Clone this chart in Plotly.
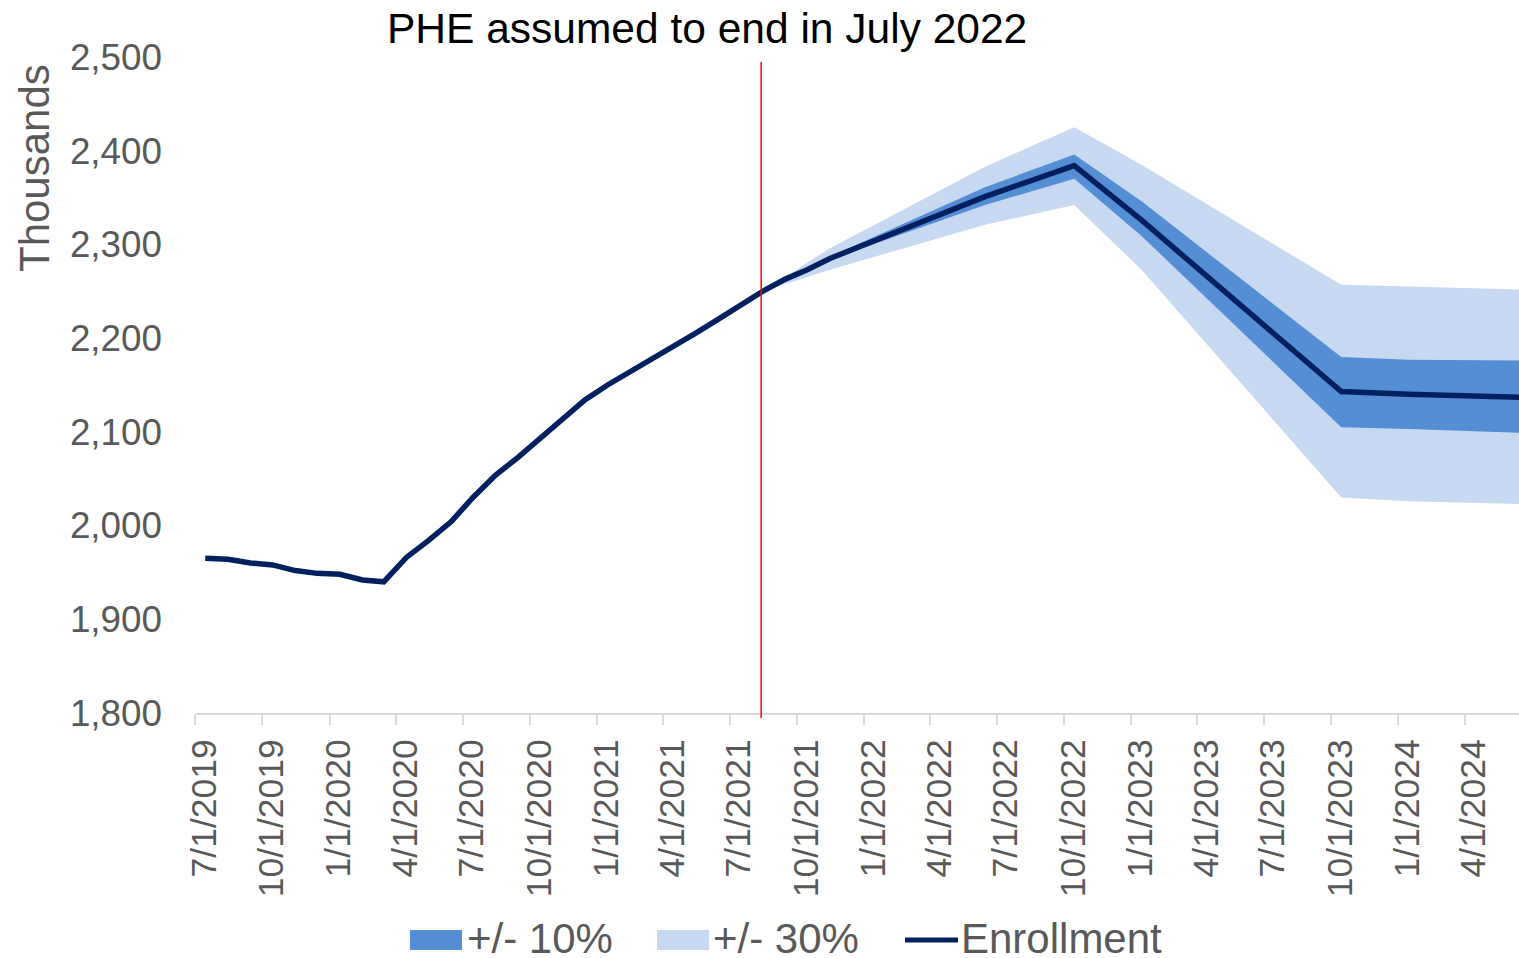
import plotly.graph_objects as go

# ---- data (thousands) ----
hist_dates = [
    "2019-07-15", "2019-08-15", "2019-09-15", "2019-10-15", "2019-11-15", "2019-12-15",
    "2020-01-15", "2020-02-15", "2020-03-15", "2020-04-15", "2020-05-15", "2020-06-15",
    "2020-07-15", "2020-08-15", "2020-09-15", "2020-10-15", "2020-11-15", "2020-12-15",
    "2021-01-15", "2021-02-15", "2021-03-15", "2021-04-15", "2021-05-15", "2021-06-15",
    "2021-07-15", "2021-08-15", "2021-09-15", "2021-10-15",
]
hist_values = [
    1965, 1964, 1960, 1958, 1952, 1949,
    1948, 1942, 1940, 1966, 1984, 2004,
    2030, 2054, 2073, 2093, 2113, 2134,
    2150, 2164, 2178, 2191, 2205, 2220,
    2235, 2250, 2263, 2273,
]
proj_dates = ["2021-11-15", "2022-06-15", "2022-10-15", "2023-01-15",
              "2023-10-15", "2024-01-15", "2024-06-15"]
proj_values = [2285, 2351, 2384, 2326, 2143, 2140, 2137]

band_dates = ["2021-08-15", "2021-11-15", "2022-06-15", "2022-10-15", "2023-01-15",
              "2023-10-15", "2024-01-15", "2024-06-15"]
low30 = [2250, 2273, 2321, 2342, 2273, 2030, 2026, 2023]
low10 = [2250, 2284, 2342, 2370, 2309, 2105, 2103, 2099]
high10 = [2250, 2287, 2361, 2396, 2346, 2180, 2177, 2176]
high30 = [2250, 2296, 2383, 2425, 2385, 2257, 2255, 2252]

tick_dates = ["2019-07-01", "2019-10-01", "2020-01-01", "2020-04-01", "2020-07-01",
              "2020-10-01", "2021-01-01", "2021-04-01", "2021-07-01", "2021-10-01",
              "2022-01-01", "2022-04-01", "2022-07-01", "2022-10-01", "2023-01-01",
              "2023-04-01", "2023-07-01", "2023-10-01", "2024-01-01", "2024-04-01"]
tick_labels = ["7/1/2019", "10/1/2019", "1/1/2020", "4/1/2020", "7/1/2020",
               "10/1/2020", "1/1/2021", "4/1/2021", "7/1/2021", "10/1/2021",
               "1/1/2022", "4/1/2022", "7/1/2022", "10/1/2022", "1/1/2023",
               "4/1/2023", "7/1/2023", "10/1/2023", "1/1/2024", "4/1/2024"]

phe_marker_date = "2021-08-13"

FONT = "Liberation Sans, Arial, sans-serif"
GRAY = "#595959"
NAVY = "#002060"
DARK = "#558ED5"
LIGHT = "#C6D9F1"

line_dates = hist_dates + proj_dates
line_values = hist_values + proj_values

fig = go.Figure()
# +/- 30% band
fig.add_trace(go.Scatter(x=band_dates, y=low30, mode="lines", line=dict(width=0),
                         showlegend=False, hoverinfo="skip"))
fig.add_trace(go.Scatter(x=band_dates, y=high30, mode="lines", line=dict(width=0),
                         fill="tonexty", fillcolor=LIGHT, name="+/- 30%", showlegend=False))
# +/- 10% band
fig.add_trace(go.Scatter(x=band_dates, y=low10, mode="lines", line=dict(width=0),
                         showlegend=False, hoverinfo="skip"))
fig.add_trace(go.Scatter(x=band_dates, y=high10, mode="lines", line=dict(width=0),
                         fill="tonexty", fillcolor=DARK, name="+/- 10%", showlegend=False))
# Enrollment line
fig.add_trace(go.Scatter(x=line_dates, y=line_values, mode="lines",
                         line=dict(color=NAVY, width=5.5), name="Enrollment", showlegend=False))

W, H = 1519, 958
L, R, T, B = 195, 0, 57, 958 - 713
pw, ph = W - L - R, H - T - B


def px(rx):  # page x pixel -> paper
    return (rx - L) / pw


def py(ry):  # page y pixel -> paper
    return (H - B - ry) / ph


shapes = [
    dict(type="line", xref="x", yref="paper", x0=phe_marker_date, x1=phe_marker_date,
         y0=py(718), y1=py(62), line=dict(color="#FF0000", width=1.5)),
    # custom legend swatches
    dict(type="rect", xref="paper", yref="paper", x0=px(410), x1=px(462),
         y0=py(950), y1=py(930), fillcolor=DARK, line=dict(width=0)),
    dict(type="rect", xref="paper", yref="paper", x0=px(657), x1=px(709),
         y0=py(950), y1=py(930), fillcolor=LIGHT, line=dict(width=0)),
    dict(type="line", xref="paper", yref="paper", x0=px(905), x1=px(958),
         y0=py(940), y1=py(940), line=dict(color=NAVY, width=5)),
]

annotations = [
    dict(text="PHE assumed to end in July 2022", xref="paper", yref="paper",
         x=px(707), y=py(28), xanchor="center", yanchor="middle", showarrow=False,
         font=dict(family=FONT, size=42.5, color="#000000")),
    dict(text="Thousands", xref="paper", yref="paper", x=px(34), y=py(168),
         xanchor="center", yanchor="middle", textangle=-90, showarrow=False,
         font=dict(family=FONT, size=42, color=GRAY)),
    dict(text="+/- 10%", xref="paper", yref="paper", x=px(465), y=py(938),
         xanchor="left", yanchor="middle", showarrow=False,
         font=dict(family=FONT, size=42, color=GRAY)),
    dict(text="+/- 30%", xref="paper", yref="paper", x=px(711), y=py(938),
         xanchor="left", yanchor="middle", showarrow=False,
         font=dict(family=FONT, size=42, color=GRAY)),
    dict(text="Enrollment", xref="paper", yref="paper", x=px(959), y=py(938),
         xanchor="left", yanchor="middle", showarrow=False,
         font=dict(family=FONT, size=42, color=GRAY)),
]

fig.update_layout(
    width=W, height=H,
    margin=dict(l=L, r=R, t=T, b=B, pad=0),
    paper_bgcolor="white", plot_bgcolor="white",
    font=dict(family=FONT, color=GRAY),
    shapes=shapes, annotations=annotations,
    showlegend=False,
    xaxis=dict(
        type="date", range=["2019-07-01", "2024-06-14"],
        tickmode="array", tickvals=tick_dates, ticktext=tick_labels,
        tickangle=-90, tickfont=dict(family=FONT, size=35.5, color=GRAY),
        showgrid=False, zeroline=False,
        showline=True, linecolor="#D9D9D9", linewidth=2,
        ticks="outside", ticklen=10, tickcolor="#D9D9D9", tickwidth=2,
        ticklabelshift=9,
    ),
    yaxis=dict(
        range=[1800, 2500], tickmode="linear", tick0=1800, dtick=100,
        tickformat=",", tickfont=dict(family=FONT, size=36.8, color=GRAY),
        showgrid=False, zeroline=False, showline=False, ticks="",
        ticklabelstandoff=32,
    ),
)

fig.write_html(
    "out.html",
    config={"displayModeBar": False},
    post_script="document.body.style.margin='0';document.body.style.overflow='hidden';",
)
